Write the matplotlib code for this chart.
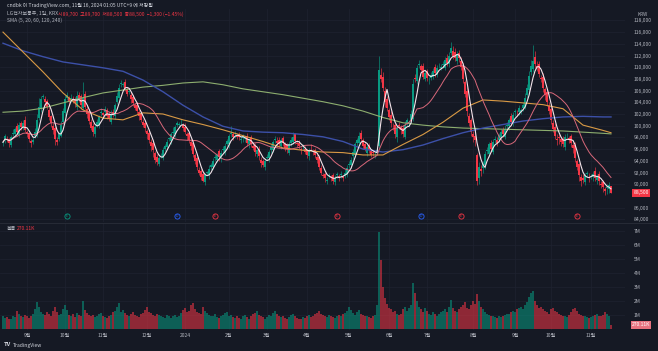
import numpy as np
import pandas as pd
import matplotlib
matplotlib.use('Agg')
import matplotlib.pyplot as plt
import matplotlib.transforms as mtransforms

plt.rcParams['font.family'] = ['Noto Sans CJK KR', 'DejaVu Sans']

# ---------------- data ----------------
start_date = '2023-08-16'
end_date = '2024-11-15'
krx_holidays = ['2023-09-28', '2023-09-29', '2023-10-02', '2023-10-03', '2023-10-09',
                '2023-12-25', '2023-12-29', '2024-01-01', '2024-02-09', '2024-02-12',
                '2024-03-01', '2024-04-10', '2024-05-01', '2024-05-06', '2024-05-15',
                '2024-06-06', '2024-08-15', '2024-09-16', '2024-09-17', '2024-09-18',
                '2024-10-01', '2024-10-03', '2024-10-09']

# daily closes, thousand KRW
closes = [
    97.2, 98.2, 97.5, 97.0, 98.0, 98.8, 99.5, 99.0, 100.2, 99.8, 100.4, 99.2, 98.6, 97.8, 97.0, 97.6, 99.0, 101.0, 103.2, 104.5,
    105.0, 104.0, 103.2, 101.5, 100.5, 99.2, 97.8, 97.2, 98.5, 100.2, 102.5, 104.5, 105.2, 104.0, 104.8, 104.2, 103.8, 105.0, 104.5, 103.5,
    104.8, 103.2, 102.0, 100.8, 99.6, 99.0, 99.8, 100.6, 101.5, 102.4, 101.8, 102.8, 101.6, 101.2, 102.0, 102.0, 103.5, 105.0, 106.5, 107.2,
    107.0, 106.5, 105.5, 105.8, 104.5, 103.8, 103.0, 102.5, 101.6, 101.0, 100.2, 99.6, 98.5, 97.5, 96.5, 95.8, 94.2, 93.8, 94.5, 95.0,
    95.8, 96.5, 97.2, 97.8, 98.5, 99.0, 99.8, 100.5, 100.2, 100.8, 99.6, 99.0, 98.2, 97.5, 96.5, 95.2, 94.0, 93.0, 92.0, 91.2,
    90.6, 91.5, 92.0, 92.6, 93.2, 94.0, 94.6, 95.0, 94.6, 95.4, 96.0, 96.6, 97.4, 98.2, 98.8, 98.0, 98.6, 98.2, 98.0, 97.6,
    98.2, 97.8, 97.0, 97.5, 96.8, 96.2, 95.5, 95.8, 94.8, 93.6, 93.2, 94.0, 94.6, 95.5, 96.4, 97.2, 97.8, 97.0, 96.8, 97.5,
    97.0, 96.2, 96.0, 96.8, 97.6, 98.0, 97.4, 96.8, 96.5, 95.8, 96.4, 95.5, 95.0, 95.8, 96.2, 95.5, 95.0, 94.2, 93.0, 92.0,
    91.5, 91.0, 90.8, 91.6, 91.2, 90.5, 91.0, 91.8, 91.2, 91.8, 91.0, 92.0, 92.8, 93.5, 94.2, 95.5, 96.8, 97.5, 98.2, 97.8,
    96.5, 96.0, 96.4, 95.8, 95.0, 95.4, 95.0, 95.8, 109.5, 108.0, 106.5, 104.0, 103.0, 101.5, 100.5, 99.8, 98.5, 99.6, 100.0, 99.2,
    98.6, 100.2, 101.0, 100.5, 102.0, 107.2, 108.0, 109.8, 110.5, 109.6, 108.4, 109.0, 108.2, 107.8, 108.6, 109.4, 109.0, 109.8, 110.4, 110.0,
    110.5, 111.2, 110.8, 112.0, 113.2, 112.0, 111.5, 112.2, 111.5, 110.0, 108.0, 105.5, 102.5, 100.5, 99.0, 98.0, 97.5, 90.5, 93.0, 92.2,
    93.5, 95.2, 95.8, 96.8, 96.0, 97.2, 97.8, 97.0, 98.4, 99.0, 98.6, 99.5, 100.2, 101.0, 100.6, 101.8, 102.5, 102.0, 103.0, 102.6,
    103.5, 104.8, 106.5, 108.5, 110.2, 111.0, 110.5, 110.0, 108.8, 108.0, 106.5, 105.2, 104.0, 102.5, 101.0, 99.5, 98.2, 97.5, 98.0, 97.2,
    96.8, 98.0, 98.4, 97.8, 97.0, 96.2, 94.5, 93.0, 91.5, 90.5, 90.8, 91.5, 91.8, 91.0, 91.4, 91.8, 91.0, 91.4, 90.6, 90.0,
    89.5, 88.8, 89.4, 89.8, 88.5,
]
first_close_before = 97.0

# gap between previous close and open, hundred KRW
open_gap = [
    0, 3, -4, 2, -3, 5, -2, 4, -6, 3, -2, 5, -3, 2, -4, 3, 6, -5, 4, -3,
    5, -4, 3, -6, 2, -5, 4, -3, 6, -2, 5, -4, 3, -5, 6, -3, 4, -6, 3, 5,
    -4, 6, -3, 5, -2, 4, -5, 3, -4, 6, -3, 5, -2, 4, -6, 3, -4, 5, -3, 6,
    -2, 5, -4, 3, -6, 4, -3, 5, -2, 6, -4, 3, -5, 2, -3, 6, -4, 5, -3, 4,
    -5, 3, -2, 6, -4, 3, -5, 4, -3, 5, -6, 2, -4, 5, -3, 6, -2, 4, -5, 3,
    6, -3, 4, -5, 3, -2, 5, -4, 6, -3, 4, -5, 3, -6, 4, -2, 5, -3, 4, -4,
    3, -5, 4, -2, 6, -3, 5, -4, 3, -6, 4, -3, 5, -2, 4, -5, 3, -4, 6, -3,
    4, -2, 5, -6, 3, -4, 5, -3, 2, -5, 6, -4, 3, -2, 5, -6, 4, -3, 5, -2,
    -4, 3, -5, 6, -3, 4, -2, 5, -4, 3, -6, 5, -3, 4, -2, 6, -5, 3, -4, 5,
    -3, 4, -6, 3, -2, 5, -4, 6, 7, -8, 4, -5, 6, -3, 4, -6, 3, -4, 5, -2,
    4, -5, 3, -6, 4, -8, 10, -4, 5, -3, 6, -4, 3, -5, 4, -2, 6, -3, 5, -4,
    3, -6, 4, -3, 5, -4, 6, -5, 3, -4, 2, -6, 5, -8, 4, -5, 3, -25, 6, -4,
    5, -3, 4, -6, 3, -5, 4, -2, 6, -4, 3, -5, 4, -3, 6, -2, 5, -4, 3, -6,
    4, -3, 5, -4, 6, -5, 8, -3, 5, -6, 4, -3, 5, -6, 4, -5, 3, -4, 6, -3,
    5, -4, 3, -6, 4, -3, 5, -6, 4, -3, 6, -4, 3, -5, 4, -2, 5, -3, 4, -5,
    3, -4, 5, -3, -1,
]

# upper / lower wick lengths, hundred KRW
wick_up = [
    4, 3, 5, 2, 4, 6, 3, 5, 4, 3, 6, 8, 3, 2, 4, 5, 6, 10, 15, 6,
    5, 4, 3, 6, 2, 4, 3, 5, 4, 6, 5, 8, 6, 4, 7, 5, 3, 10, 5, 4,
    27, 5, 4, 3, 6, 4, 3, 5, 4, 6, 3, 5, 4, 3, 6, 5, 4, 7, 6, 6,
    5, 4, 6, 3, 5, 4, 3, 5, 4, 3, 5, 4, 3, 6, 5, 4, 3, 5, 6, 4,
    5, 4, 6, 3, 5, 8, 4, 3, 5, 4, 3, 6, 4, 3, 5, 4, 3, 4, 5, 3,
    4, 5, 3, 6, 4, 5, 6, 3, 5, 4, 6, 5, 4, 3, 12, 4, 5, 3, 4, 6,
    4, 3, 5, 4, 3, 6, 4, 3, 5, 4, 3, 5, 6, 4, 5, 3, 4, 6, 5, 4,
    3, 5, 4, 6, 4, 9, 3, 4, 5, 3, 4, 5, 3, 4, 6, 5, 3, 4, 3, 5,
    4, 3, 5, 4, 3, 4, 5, 3, 4, 5, 3, 6, 4, 5, 4, 6, 5, 4, 7, 5,
    4, 3, 5, 4, 3, 4, 5, 4, 25, 12, 8, 6, 5, 4, 6, 5, 4, 6, 5, 4,
    5, 6, 4, 5, 6, 8, 6, 5, 7, 4, 5, 6, 4, 5, 6, 4, 5, 6, 4, 5,
    6, 5, 7, 6, 11, 8, 6, 5, 4, 6, 5, 4, 6, 5, 4, 6, 5, 4, 8, 6,
    5, 4, 6, 5, 4, 6, 5, 4, 3, 5, 4, 6, 5, 4, 5, 6, 4, 5, 6, 5,
    6, 8, 7, 9, 10, 28, 10, 8, 6, 5, 6, 4, 5, 6, 4, 5, 6, 8, 5, 4,
    5, 6, 4, 5, 4, 6, 5, 4, 3, 5, 6, 4, 5, 6, 4, 5, 6, 4, 5, 4,
    5, 4, 6, 5, 0,
]
wick_dn = [
    4, 5, 3, 6, 4, 3, 5, 4, 3, 6, 4, 3, 5, 6, 7, 4, 3, 5, 4, 6,
    5, 6, 4, 5, 7, 6, 11, 5, 4, 3, 4, 5, 4, 6, 5, 4, 6, 5, 4, 6,
    5, 4, 6, 5, 4, 7, 5, 4, 6, 5, 4, 6, 5, 4, 3, 5, 4, 3, 4, 5,
    4, 6, 5, 4, 6, 5, 4, 5, 6, 4, 5, 6, 7, 5, 8, 12, 6, 5, 4, 5,
    4, 5, 3, 4, 6, 5, 4, 5, 4, 6, 5, 4, 6, 5, 7, 6, 5, 6, 4, 5,
    3, 5, 4, 6, 5, 4, 5, 4, 6, 5, 4, 5, 4, 6, 5, 4, 6, 5, 4, 5,
    6, 5, 4, 6, 5, 4, 6, 5, 7, 6, 3, 5, 4, 6, 5, 4, 5, 6, 4, 5,
    4, 5, 6, 4, 5, 4, 6, 5, 4, 6, 5, 4, 5, 6, 4, 5, 6, 5, 6, 5,
    4, 6, 5, 4, 6, 5, 4, 5, 6, 4, 5, 4, 5, 4, 6, 5, 4, 5, 4, 6,
    5, 4, 6, 5, 4, 5, 6, 4, 3, 5, 6, 8, 5, 6, 7, 5, 6, 8, 5, 6,
    5, 4, 6, 7, 5, 4, 6, 5, 4, 6, 5, 4, 6, 5, 4, 5, 6, 4, 5, 4,
    5, 4, 6, 5, 4, 6, 5, 4, 6, 5, 7, 6, 8, 6, 7, 8, 9, 6, 10, 8,
    7, 6, 5, 6, 5, 4, 6, 5, 4, 5, 6, 4, 5, 6, 4, 5, 6, 4, 5, 4,
    5, 4, 5, 6, 4, 5, 6, 7, 5, 6, 7, 8, 6, 5, 7, 6, 5, 8, 12, 6,
    5, 6, 4, 7, 6, 8, 7, 6, 10, 8, 6, 5, 6, 7, 5, 6, 5, 6, 7, 6,
    8, 7, 10, 6, 0,
]

# volume, 10k shares
volumes = [
    95, 80, 85, 70, 75, 95, 85, 130, 110, 90, 85, 100, 95, 80, 90, 105, 140, 190, 160, 120,
    110, 100, 125, 110, 95, 130, 160, 120, 100, 105, 140, 170, 135, 100, 95, 105, 85, 115, 100, 95,
    200, 135, 115, 100, 95, 100, 85, 90, 110, 115, 95, 85, 80, 90, 100, 120, 130, 155, 185, 125,
    135, 115, 100, 95, 105, 125, 100, 90, 85, 105, 115, 135, 155, 120, 115, 100, 95, 110, 100, 95,
    85, 80, 100, 95, 80, 90, 100, 85, 90, 115, 135, 150, 125, 130, 170, 185, 140, 120, 115, 105,
    155, 130, 115, 100, 95, 90, 105, 85, 80, 95, 100, 115, 120, 95, 100, 85, 80, 90, 80, 70,
    90, 100, 85, 75, 95, 105, 115, 130, 100, 90, 85, 75, 85, 100, 95, 115, 130, 105, 95, 85,
    90, 80, 70, 85, 100, 110, 90, 80, 75, 70, 85, 80, 90, 100, 85, 95, 105, 115, 130, 110,
    100, 90, 85, 100, 95, 85, 80, 90, 100, 95, 105, 115, 130, 155, 135, 115, 100, 125, 135, 110,
    100, 95, 90, 85, 80, 90, 100, 170, 690, 490, 300, 220, 180, 150, 140, 120, 130, 110, 98, 105,
    140, 160, 130, 150, 170, 330, 260, 200, 160, 140, 120, 150, 130, 110, 100, 120, 110, 95, 105, 120,
    130, 140, 120, 160, 210, 150, 130, 120, 140, 160, 170, 190, 150, 140, 170, 200, 180, 250, 200, 160,
    140, 120, 110, 100, 95, 90, 86, 80, 96, 88, 92, 100, 110, 105, 120, 130, 120, 140, 150, 160,
    140, 170, 190, 230, 260, 270, 200, 170, 150, 160, 140, 130, 120, 110, 140, 150, 130, 120, 110, 100,
    96, 90, 88, 100, 120, 140, 150, 130, 110, 100, 96, 90, 88, 80, 86, 92, 100, 110, 96, 90,
    100, 120, 110, 95, 27,
]

# longer moving averages (bar index -> thousand KRW)
ma_idx = [0, 10, 20, 30, 40, 50, 60, 70, 80, 90, 100, 110, 120, 130, 140, 150, 160, 170, 180, 190,
          200, 210, 220, 230, 240, 250, 260, 270, 280, 290, 300, 304]
sma60 = [116.0, 112.6, 109.2, 105.6, 102.7, 101.3, 101.0, 102.2, 102.0, 101.0, 100.2, 99.3, 98.3, 97.3, 96.2, 95.8,
         95.5, 95.4, 95.0, 95.0, 96.8, 98.5, 100.6, 103.0, 104.4, 104.2, 103.9, 103.6, 102.9, 100.1, 99.2, 98.8]
sma120 = [114.1, 112.8, 111.8, 110.9, 110.4, 109.9, 109.3, 107.8, 105.8, 103.5, 101.5, 99.9, 99.1, 98.9, 98.8, 98.5,
          98.1, 97.3, 96.0, 95.5, 95.9, 96.7, 97.8, 98.8, 99.6, 100.2, 100.8, 101.2, 101.5, 101.6, 101.5, 101.5]
sma240 = [102.3, 102.5, 103.0, 103.9, 104.8, 105.6, 106.1, 106.6, 106.9, 107.3, 107.5, 107.0, 106.3, 105.8, 105.3, 104.7,
          104.1, 103.4, 102.5, 101.4, 100.5, 100.1, 99.8, 99.6, 99.5, 99.4, 99.3, 99.2, 99.1, 98.9, 98.7, 98.6]

event_idx = [32, 87, 106, 167, 209, 229, 287]
event_kind = ['E', 'D', 'E', 'E', 'D', 'E', 'E']
event_color = ['#089981', '#2962ff', '#f23645', '#f23645', '#2962ff', '#f23645', '#f23645']

price_ticks = [84, 86, 90, 92, 94, 96, 98, 100, 102, 104, 106, 108, 110, 112, 114, 116, 118]
vol_ticks = [1, 2, 3, 4, 5, 6, 7]

# ---------------- derived ----------------
n = len(closes)
days = pd.bdate_range(start_date, end_date)
days = days[~days.isin(pd.to_datetime(krx_holidays))][:n]
x = np.arange(n)
c = np.array(closes)
prev = np.concatenate([[first_close_before], c[:-1]])
o = prev + np.array(open_gap) / 10.0
hi = np.maximum(o, c) + np.array(wick_up) / 10.0
lo = np.minimum(o, c) - np.array(wick_dn) / 10.0
v = np.array(volumes) / 100.0  # millions
up = c >= o
UP, DN = '#089981', '#f23645'
col = np.where(up, UP, DN)

sma5 = pd.Series(c).rolling(5, min_periods=1).mean()
sma20 = pd.Series(c).rolling(20, min_periods=1).mean()

month_pos = [i for i in range(1, n) if days[i].month != days[i - 1].month]
month_lab = ['2024' if days[i].month == 1 else f'{days[i].month}월' for i in month_pos]

# ---------------- figure ----------------
W, H = 658, 351
BG = '#151924'
GRID = '#1f2330'
TXT = '#b2b5be'
fig = plt.figure(figsize=(W / 100, H / 100), dpi=100)
fig.patch.set_facecolor(BG)

def box(x0, y0, x1, y1):
    return [x0 / W, 1 - y1 / H, (x1 - x0) / W, (y1 - y0) / H]

axp = fig.add_axes(box(0, 9, 625, 222))
axv = fig.add_axes(box(0, 223, 625, 330))
for ax in (axp, axv):
    ax.set_facecolor(BG)
    for s in ax.spines.values():
        s.set_visible(False)
    ax.set_xlim(-1.5, 311)
    ax.yaxis.tick_right()
    ax.tick_params(axis='both', length=0, colors=TXT, labelsize=3.6)
    ax.set_xticks(month_pos)
    ax.grid(True, color=GRID, lw=0.5)
    ax.set_axisbelow(True)

axp.set_ylim(83.54, 119.95)
axp.set_yticks(price_ticks)
axp.set_yticklabels([f'{t},000' for t in price_ticks])
axp.tick_params(axis='y', pad=6.3)
axp.set_xticklabels([])

axv.set_ylim(-0.071, 7.571)
axv.set_yticks(vol_ticks)
axv.set_yticklabels([f'{t}M' for t in vol_ticks])
axv.tick_params(axis='y', pad=6.3)
axv.set_xticklabels(month_lab)
axv.tick_params(axis='x', pad=2.5)

# separator line between panes
fig.add_artist(plt.Line2D([0, 1], [1 - 222.5 / H, 1 - 222.5 / H], color='#2a2e39', lw=0.6))

# candles
axp.vlines(x, lo, hi, colors=col, lw=0.45, zorder=2)
small = np.abs(c - o) < 0.12
axp.bar(x, np.where(small, 0.12, c - o), bottom=np.where(small, c - 0.06, o), width=0.7, color=col, lw=0, zorder=3)

# moving averages
axp.plot(ma_idx, sma240, color='#8dae6f', lw=0.8, zorder=4)
axp.plot(ma_idx, sma120, color='#3c50a8', lw=1.0, zorder=4)
axp.plot(ma_idx, sma60, color='#d99a45', lw=0.8, zorder=4)
axp.plot(x, sma20, color='#d8687a', lw=0.7, zorder=5)
axp.plot(x, sma5, color='#f4e4ea', lw=0.8, zorder=6)

# events
tr = mtransforms.blended_transform_factory(axp.transData, axp.transAxes)
for ei, ek, ec in zip(event_idx, event_kind, event_color):
    axp.scatter([ei], [0.028], s=14, transform=tr, facecolor=BG, edgecolor=ec, lw=0.6, zorder=7, clip_on=False)
    axp.text(ei, 0.028, ek, transform=tr, color=ec, fontsize=2.6, ha='center', va='center', zorder=8)

# volume
axv.bar(x, v, width=0.75, color=col, alpha=0.55, lw=0)

# last price / volume tags
ty = mtransforms.blended_transform_factory(axp.transAxes, axp.transData)
axp.text(1.0135, c[-1], f'{int(round(c[-1] * 1000)):,}', transform=ty, fontsize=3.6, color='white',
         va='center', ha='left', bbox=dict(boxstyle='square,pad=0.25', fc=DN, ec='none'), clip_on=False)
tv = mtransforms.blended_transform_factory(axv.transAxes, axv.transData)
axv.text(1.011, 0.29, '270.11K', transform=tv, fontsize=3.6, color='white',
         va='center', ha='left', bbox=dict(boxstyle='square,pad=0.25', fc='#e8727f', ec='none'), clip_on=False)

# header texts
fig.text(7 / W, 1 - 5.5 / H, 'cndbk 이 TradingView.com, 11월 16, 2024 01:05 UTC+9 에 저장됨', fontsize=3.6,
         color='#d1d4dc', va='center')
fig.text(7 / W, 1 - 14 / H, 'LG전자보통주, 1일, KRX', fontsize=3.6, color=TXT, va='center')
fig.text(58 / W, 1 - 14 / H, '시89,700  고89,700  저88,500  종88,500  −1,300 (−1.45%)', fontsize=3.6,
         color=DN, va='center')
fig.text(7 / W, 1 - 20 / H, 'SMA (5, 20, 60, 120, 240)', fontsize=3.6, color=TXT, va='center')
fig.text(643 / W, 1 - 14.5 / H, 'KRW', fontsize=3.4, color=TXT, va='center', ha='center')
fig.text(7 / W, 1 - 228.5 / H, '볼륨', fontsize=3.6, color=TXT, va='center')
fig.text(17 / W, 1 - 228.5 / H, '270.11K', fontsize=3.6, color=DN, va='center')

# footer
fig.text(4 / W, 1 - 345 / H, 'TV', fontsize=4.2, color='#d1d4dc', va='center', weight='bold')
fig.text(13 / W, 1 - 345 / H, 'TradingView', fontsize=3.6, color='#d1d4dc', va='center')

fig.savefig('out.png', dpi=100, facecolor=BG)
